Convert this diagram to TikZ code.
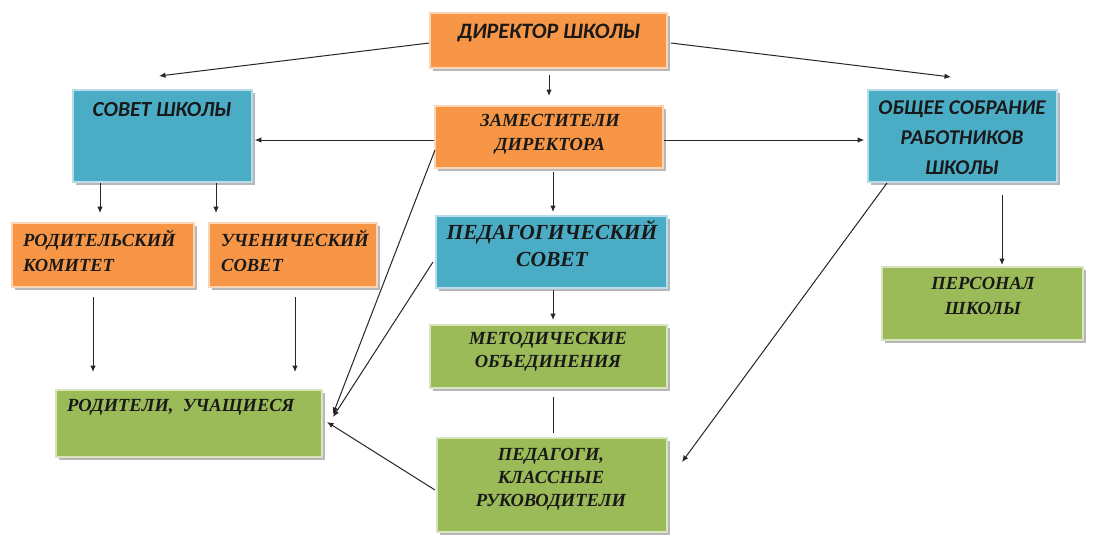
\documentclass[tikz,border=0pt]{standalone}
\usepackage{fontspec}
\setmainfont{Liberation Serif}
\newfontfamily\sansf{Carlito}
\usetikzlibrary{shadows,arrows.meta,calc}
\definecolor{orng}{HTML}{F79646}
\definecolor{blu}{HTML}{4BACC6}
\definecolor{grn}{HTML}{9BBB59}
\begin{document}
\begin{tikzpicture}[x=1pt,y=-1pt,
 box/.style={rectangle, inner sep=0pt, line width=1.6pt, drop shadow={shadow xshift=2.5pt, shadow yshift=-2.5pt, fill=black!35, opacity=0.8}},
 ob/.style={box, fill=orng, draw=orng!40!white},
 bb/.style={box, fill=blu, draw=blu!40!white},
 gb/.style={box, fill=grn, draw=grn!40!white},
 arr/.style={draw=black!85, line width=1pt, -{Latex[length=6.5pt,width=5.5pt]}},
 ln/.style={draw=black!85, line width=1pt},
 st/.style={font=\sansf\bfseries\itshape\fontsize{21}{30}\selectfont, text=black!90, align=center, inner sep=0pt},
 rt/.style={font=\bfseries\itshape\fontsize{18.5}{24}\selectfont, text=black!90, align=center, inner sep=0pt},
 lt/.style={rt, align=left, anchor=west},
]
\useasboundingbox[fill=white] (0,0) rectangle (1103,549);

% boxes
\node[ob, minimum width=237pt, minimum height=55pt] (dir) at (548.5,40.5) {};
\node[ob, minimum width=228pt, minimum height=62pt] (zam) at (549,137) {};
\node[bb, minimum width=231pt, minimum height=72pt] (ped) at (551.5,252) {};
\node[gb, minimum width=237pt, minimum height=63pt] (met) at (548.5,356.5) {};
\node[gb, minimum width=230pt, minimum height=94pt] (pedg) at (552,485) {};
\node[bb, minimum width=179pt, minimum height=92pt] (sov) at (162.5,136) {};
\node[ob, minimum width=182pt, minimum height=64pt] (rk) at (103,255) {};
\node[ob, minimum width=168pt, minimum height=64pt] (us) at (293,255) {};
\node[gb, minimum width=266pt, minimum height=67pt] (rod) at (189,423.5) {};
\node[bb, minimum width=189pt, minimum height=92pt] (obs) at (962.5,136) {};
\node[gb, minimum width=201pt, minimum height=73pt] (per) at (982.5,303.5) {};

% texts
\node[st, font=\sansf\bfseries\itshape\fontsize{22}{30}\selectfont] (tdir) at (549,33) {ДИРЕКТОР ШКОЛЫ};
\node[st, font=\sansf\bfseries\itshape\fontsize{21.5}{30}\selectfont] (tsov) at (162,110) {СОВЕТ ШКОЛЫ};
\node[st] (tobs) at (962,138) {ОБЩЕЕ СОБРАНИЕ\\РАБОТНИКОВ\\ШКОЛЫ};
\node[rt] (tzam) at (550,134) {ЗАМЕСТИТЕЛИ\\ДИРЕКТОРА};
\node[rt, font=\bfseries\itshape\fontsize{21.5}{27}\selectfont] (tped) at (552,243.5) {ПЕДАГОГИЧЕСКИЙ\\СОВЕТ};
\node[rt, font=\bfseries\itshape\fontsize{18.5}{23}\selectfont] (tmet) at (548,351.5) {МЕТОДИЧЕСКИЕ\\ОБЪЕДИНЕНИЯ};
\node[rt, font=\bfseries\itshape\fontsize{18.5}{23}\selectfont] (tpedg) at (551,479) {ПЕДАГОГИ,\\КЛАССНЫЕ\\РУКОВОДИТЕЛИ};
\node[lt, font=\bfseries\itshape\fontsize{18.5}{25}\selectfont] (trk) at (23,250.5) {РОДИТЕЛЬСКИЙ\\КОМИТЕТ};
\node[lt, font=\bfseries\itshape\fontsize{18.5}{25}\selectfont] (tus) at (221,250.5) {УЧЕНИЧЕСКИЙ\\СОВЕТ};
\node[lt] (trod) at (67,407) {РОДИТЕЛИ,\ \ УЧАЩИЕСЯ};
\node[rt, font=\bfseries\itshape\fontsize{18.5}{25}\selectfont] (tper) at (983,295.5) {ПЕРСОНАЛ\\ШКОЛЫ};

% free ends
\coordinate (c1) at (159,76);
\coordinate (c2) at (951,77);
\coordinate (c3a) at (549,75);
\coordinate (c3b) at (549,96);
\coordinate (c6a) at (553,172);
\coordinate (c6b) at (553,212);
\coordinate (c7a) at (100,183);
\coordinate (c7b) at (100,213);
\coordinate (c8a) at (216,183);
\coordinate (c8b) at (216,213);
\coordinate (c9a) at (93,297);
\coordinate (c9b) at (93,372);
\coordinate (c10a) at (295,297);
\coordinate (c10b) at (295,372);
\coordinate (z1) at (435,150);
\coordinate (p1) at (433,262);
\coordinate (g1) at (435,490);
\coordinate (r1) at (333,414);
\coordinate (r2) at (333,417);
\coordinate (r3) at (327,422);
\coordinate (o1) at (887,183);
\coordinate (o2) at (682,462);
\coordinate (o3) at (1002,195);
\coordinate (o4) at (1002,265);
\coordinate (m1) at (553,290);
\coordinate (m2) at (553,320);
\coordinate (m3) at (553,397);
\coordinate (m4) at (553,433);

% connectors
\draw[arr] ($(dir.west)+(0,2.5)$) -- (c1);
\draw[arr] ($(dir.east)+(3,2.5)$) -- (c2);
\draw[arr] (c3a) -- (c3b);
\draw[arr] ($(zam.west)+(0,3)$) -- ($(sov.east)+(2,4)$);
\draw[arr] ($(zam.east)+(0,3)$) -- ($(obs.west)+(-3,4)$);
\draw[arr] (c6a) -- (c6b);
\draw[arr] (c7a) -- (c7b);
\draw[arr] (c8a) -- (c8b);
\draw[arr] (c9a) -- (c9b);
\draw[arr] (c10a) -- (c10b);
\draw[arr] (z1) -- (r1);
\draw[arr] (p1) -- (r2);
\draw[arr] (g1) -- (r3);
\draw[arr] (o1) -- (o2);
\draw[arr] (o3) -- (o4);
\draw[arr] (m1) -- (m2);
\draw[ln] (m3) -- (m4);
\end{tikzpicture}
\end{document}
